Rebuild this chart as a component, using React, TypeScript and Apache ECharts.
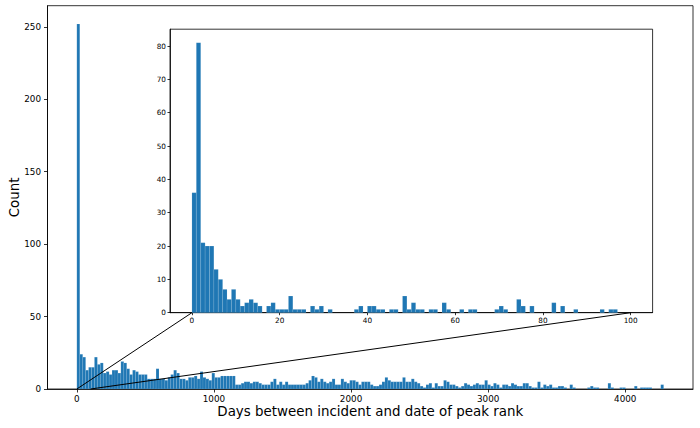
import React, { useEffect, useRef } from "react";
import * as echarts from "echarts";

// Main histogram: 200 bins of equal width from 0 days
const MAIN_BIN_WIDTH = 21.4;
const MAIN_COUNTS = [
  252, 24, 22, 13, 15, 15, 22, 17, 18, 11,
  12, 10, 13, 13, 11, 19, 18, 14, 10, 13,
  12, 10, 10, 10, 7, 7, 7, 14, 7, 7,
  6, 8, 10, 13, 11, 7, 7, 6, 8, 8,
  9, 7, 12, 8, 7, 6, 11, 8, 8, 9,
  9, 9, 9, 9, 3, 3, 4, 5, 5, 4,
  5, 5, 4, 3, 3, 3, 5, 7, 3, 5,
  3, 5, 3, 3, 3, 3, 3, 3, 4, 6,
  9, 8, 5, 7, 5, 4, 5, 7, 3, 3,
  7, 5, 4, 6, 6, 5, 3, 5, 5, 5,
  3, 2, 2, 3, 5, 8, 6, 5, 5, 5,
  5, 8, 5, 5, 7, 5, 4, 2, 1, 3,
  4, 1, 4, 2, 2, 6, 5, 3, 3, 2,
  1, 2, 4, 3, 2, 3, 4, 3, 3, 6,
  3, 2, 4, 3, 1, 3, 3, 2, 4, 3,
  2, 2, 4, 4, 2, 1, 1, 5, 1, 3,
  2, 3, 1, 1, 2, 2, 1, 0, 3, 1,
  0, 0, 0, 0, 1, 2, 1, 1, 0, 0,
  0, 4, 1, 0, 0, 1, 1, 0, 0, 0,
  2, 0, 1, 1, 1, 1, 0, 0, 0, 3,
];

// Inset histogram: 1-day bins from 0 to 100
const INSET_BIN_WIDTH = 1;
const INSET_COUNTS = [
  36, 81, 21, 20, 20, 13, 10, 7, 4, 7,
  4, 2, 3, 4, 3, 2, 0, 2, 3, 1,
  1, 1, 5, 1, 1, 1, 0, 2, 1, 2,
  0, 1, 0, 0, 0, 0, 0, 1, 2, 0,
  2, 2, 1, 1, 0, 1, 1, 0, 5, 1,
  3, 1, 1, 0, 1, 1, 0, 3, 1, 0,
  0, 1, 0, 1, 1, 0, 0, 0, 0, 1,
  2, 1, 0, 0, 4, 2, 0, 2, 0, 0,
  0, 0, 3, 0, 2, 0, 0, 1, 0, 0,
  0, 0, 0, 1, 0, 1, 1, 0, 0, 0,
];

const MAIN_X_TICKS = [0, 1000, 2000, 3000, 4000];
const MAIN_Y_TICKS = [0, 50, 100, 150, 200, 250];
const INSET_X_TICKS = [0, 20, 40, 60, 80, 100];
const INSET_Y_TICKS = [0, 10, 20, 30, 40, 50, 60, 70, 80];

const X_LABEL = "Days between incident and date of peak rank";
const Y_LABEL = "Count";

const BLUE = "#1f77b4";
const FONT = "DejaVu Sans";

function toBins(counts: number[], width: number) {
  return counts.map((c, i) => [i * width, (i + 1) * width, c]);
}

function padRange(lo: number, hi: number) {
  const m = (hi - lo) * 0.05;
  return [lo - m, hi + m];
}

const renderBar = (params: any, api: any) => {
  const x0 = api.value(0);
  const x1 = api.value(1);
  const h = api.value(2);
  if (!h) return null;
  const p0 = api.coord([x0, h]);
  const p1 = api.coord([x1, 0]);
  return {
    type: "rect",
    shape: { x: p0[0], y: p0[1], width: p1[0] - p0[0], height: p1[1] - p0[1] },
    style: { fill: BLUE, stroke: "rgba(255,255,255,0.25)", lineWidth: 0.4 },
  };
};

function axisCommon(fontSize: number, tickLen: number, margin: number, ticks: number[]) {
  return {
    axisLine: { show: true, onZero: false, lineStyle: { color: "#000", width: 0.8 } },
    axisTick: {
      show: true,
      inside: false,
      length: tickLen,
      lineStyle: { color: "#000", width: 0.8 },
      customValues: ticks,
    },
    axisLabel: {
      show: true,
      color: "#000",
      fontSize,
      fontFamily: FONT,
      margin,
      customValues: ticks,
      formatter: (v: number) => String(v),
    },
    splitLine: { show: false },
  };
}

export default function App() {
  const ref = useRef<HTMLDivElement>(null);

  useEffect(() => {
    document.body.style.margin = "0";
    if (!ref.current) return;
    const chart = echarts.init(ref.current, null, { renderer: "svg" });

    const mainBins = toBins(MAIN_COUNTS, MAIN_BIN_WIDTH);
    const insetBins = toBins(INSET_COUNTS, INSET_BIN_WIDTH);
    const mainXMaxData = MAIN_COUNTS.length * MAIN_BIN_WIDTH;
    const [mxMin, mxMax] = padRange(0, mainXMaxData);
    const myMax = Math.max(...MAIN_COUNTS) * 1.05;
    const insetXMaxData = INSET_COUNTS.length * INSET_BIN_WIDTH;
    const [ixMin, ixMax] = padRange(0, insetXMaxData);
    const iyMax = Math.max(...INSET_COUNTS) * 1.05;

    chart.setOption({
      animation: false,
      backgroundColor: "#fff",
      grid: [
        {
          left: 47.5,
          top: 5.7,
          right: 7,
          bottom: 39,
          show: true,
          borderColor: "#000",
          borderWidth: 0.8,
          backgroundColor: "transparent",
          containLabel: false,
          outerBoundsMode: "none",
        },
        {
          left: 170,
          top: 29.2,
          width: 482.6,
          height: 283.5,
          show: true,
          borderColor: "#000",
          borderWidth: 0.8,
          backgroundColor: "#fff",
          containLabel: false,
          outerBoundsMode: "none",
        },
      ],
      xAxis: [
        {
          type: "value",
          gridIndex: 0,
          min: mxMin,
          max: mxMax,
          ...axisCommon(8.8, 3.5, 5, MAIN_X_TICKS),
          name: X_LABEL,
          nameLocation: "middle",
          nameGap: 16,
          nameMoveOverlap: false,
          nameTextStyle: { color: "#000", fontSize: 13.4, fontFamily: FONT, verticalAlign: "top" },
        },
        {
          type: "value",
          gridIndex: 1,
          min: ixMin,
          max: ixMax,
          ...axisCommon(7.3, 2.5, 4, INSET_X_TICKS),
        },
      ],
      yAxis: [
        {
          type: "value",
          gridIndex: 0,
          min: 0,
          max: myMax,
          ...axisCommon(8.8, 3.5, 6.5, MAIN_Y_TICKS),
          name: Y_LABEL,
          nameLocation: "middle",
          nameGap: 27,
          nameMoveOverlap: false,
          nameTextStyle: { color: "#000", fontSize: 13.4, fontFamily: FONT },
        },
        {
          type: "value",
          gridIndex: 1,
          min: 0,
          max: iyMax,
          ...axisCommon(7.3, 2.5, 4, INSET_Y_TICKS),
        },
      ],
      series: [
        {
          type: "custom",
          xAxisIndex: 0,
          yAxisIndex: 0,
          renderItem: renderBar,
          encode: { x: [0, 1], y: 2 },
          data: mainBins,
          clip: false,
        },
        {
          type: "custom",
          xAxisIndex: 1,
          yAxisIndex: 1,
          renderItem: renderBar,
          encode: { x: [0, 1], y: 2 },
          data: insetBins,
          z: 5,
        },
      ],
    });

    const mainFinder = { xAxisIndex: 0, yAxisIndex: 0 };
    const insetFinder = { xAxisIndex: 1, yAxisIndex: 1 };
    const a0 = chart.convertToPixel(mainFinder as any, [0, 0]) as number[];
    const a1 = chart.convertToPixel(mainFinder as any, [insetXMaxData, 0]) as number[];
    const b0 = chart.convertToPixel(insetFinder as any, [0, 0]) as number[];
    const b1 = chart.convertToPixel(insetFinder as any, [insetXMaxData, 0]) as number[];

    chart.setOption({
      graphic: [
        {
          type: "line",
          z: 10,
          shape: { x1: a0[0], y1: a0[1], x2: b0[0], y2: b0[1] },
          style: { stroke: "#000", lineWidth: 1 },
        },
        {
          type: "line",
          z: 10,
          shape: { x1: a1[0], y1: a1[1], x2: b1[0], y2: b1[1] },
          style: { stroke: "#000", lineWidth: 1 },
        },
      ],
    });

    return () => chart.dispose();
  }, []);

  return <div ref={ref} style={{ width: 700, height: 428 }} />;
}
